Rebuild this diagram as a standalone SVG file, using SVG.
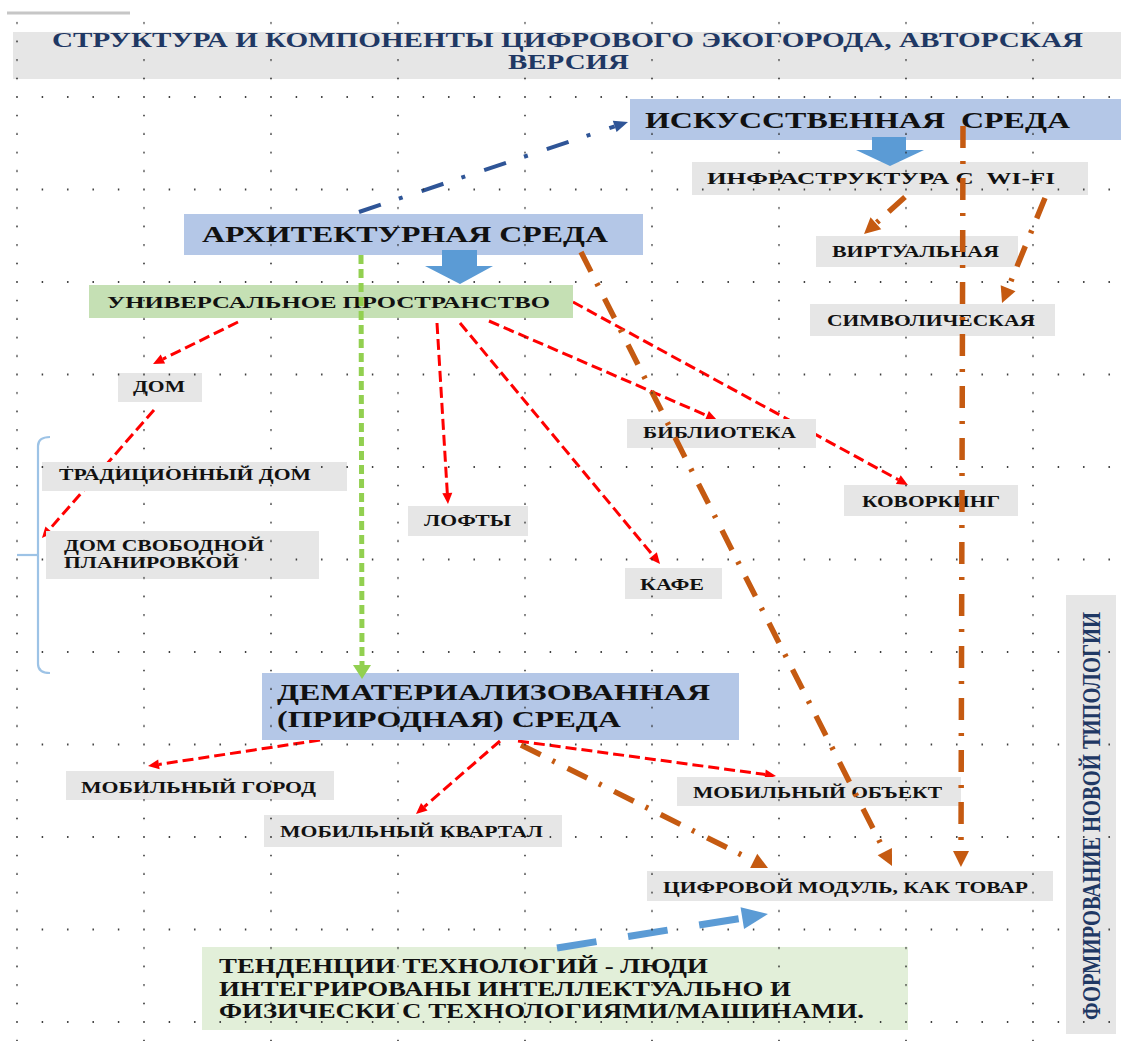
<svg xmlns="http://www.w3.org/2000/svg" width="1121" height="1041" viewBox="0 0 1121 1041">
<style>
.t{font-family:"Liberation Serif","Times New Roman",serif;font-weight:bold;fill:#111;}
.gray{fill:#e6e6e6;}
.blue{fill:#b4c7e7;}
.green{fill:#c5e0b4;}
.red{fill:none;stroke:#ff0000;stroke-width:3;stroke-dasharray:11 5;}
.orange{fill:none;stroke:#c55a11;stroke-width:5.5;stroke-dasharray:22 13 3 14;}
</style>
<defs>
<pattern id="grid" patternUnits="userSpaceOnUse" x="15" y="2.5" width="127" height="92.5">
<g fill="#2a2a2a">
<circle cx="2" cy="2" r="0.9"/><circle cx="27.4" cy="2" r="0.9"/><circle cx="52.8" cy="2" r="0.9"/><circle cx="78.2" cy="2" r="0.9"/><circle cx="103.6" cy="2" r="0.9"/>
<circle cx="2" cy="20.5" r="0.9"/><circle cx="2" cy="39" r="0.9"/><circle cx="2" cy="57.5" r="0.9"/><circle cx="2" cy="76" r="0.9"/>
</g>
</pattern>
<marker id="ar-red" markerUnits="userSpaceOnUse" markerWidth="11" markerHeight="10" refX="0" refY="5" orient="auto" overflow="visible"><path d="M0,0 L11,5 L0,10 Z" fill="#ff0000"/></marker>
<marker id="ar-or" markerUnits="userSpaceOnUse" markerWidth="16" markerHeight="16" refX="0" refY="8" orient="auto" overflow="visible"><path d="M0,0 L16,8 L0,16 Z" fill="#c55a11"/></marker>
<marker id="ar-gr" markerUnits="userSpaceOnUse" markerWidth="14" markerHeight="18" refX="0" refY="9" orient="auto" overflow="visible"><path d="M0,0 L14,9 L0,18 Z" fill="#92d050"/></marker>
<marker id="ar-nv" markerUnits="userSpaceOnUse" markerWidth="14" markerHeight="12" refX="0" refY="6" orient="auto" overflow="visible"><path d="M0,0 L14,6 L0,12 Z" fill="#2f5597"/></marker>
<marker id="ar-bl" markerUnits="userSpaceOnUse" markerWidth="26" markerHeight="22" refX="0" refY="11" orient="auto" overflow="visible"><path d="M0,0 L26,11 L0,22 Z" fill="#5b9bd5"/></marker>
</defs>

<line x1="7" y1="13" x2="130" y2="13" stroke="#c6c6c6" stroke-width="3"/>

<g id="title">
<rect class="gray" x="13" y="32" width="1108" height="47"/>
<text class="t" x="52" y="47" font-size="20" style="fill:#1f3864" textLength="1031" lengthAdjust="spacingAndGlyphs">СТРУКТУРА И КОМПОНЕНТЫ ЦИФРОВОГО ЭКОГОРОДА, АВТОРСКАЯ</text>
<text class="t" x="508" y="69" font-size="20" style="fill:#1f3864" textLength="121" lengthAdjust="spacingAndGlyphs">ВЕРСИЯ</text>
</g>

<g id="connectors-under">
<line class="red" x1="238" y1="322" x2="162.9" y2="359.1" marker-end="url(#ar-red)"/>
<line class="red" x1="154" y1="410" x2="49.2" y2="529.7" marker-end="url(#ar-red)"/>
<line class="red" x1="437" y1="323" x2="447.3" y2="493" marker-end="url(#ar-red)"/>
<line class="red" x1="460" y1="323" x2="653" y2="555.5" marker-end="url(#ar-red)"/>
<line class="red" x1="489" y1="321" x2="706.9" y2="415.6" marker-end="url(#ar-red)"/>
<line class="red" x1="573" y1="302" x2="898.3" y2="479.7" marker-end="url(#ar-red)"/>
<line class="red" x1="320" y1="740" x2="158.9" y2="764.4" marker-end="url(#ar-red)"/>
<line class="red" x1="500" y1="741" x2="424.3" y2="806.8" marker-end="url(#ar-red)"/>
<line class="red" x1="518" y1="741" x2="765.1" y2="774.5" marker-end="url(#ar-red)"/>
</g>

<g id="node-iskusstvennaya">
<rect class="blue" x="630" y="99" width="491" height="41"/>
<text class="t" x="645" y="128" font-size="24" textLength="425" lengthAdjust="spacingAndGlyphs" xml:space="preserve">ИСКУССТВЕННАЯ  СРЕДА</text>
</g>
<g id="node-infra">
<rect class="gray" x="692" y="162" width="396" height="33"/>
<text class="t" x="707" y="184" font-size="16" textLength="348" lengthAdjust="spacingAndGlyphs" xml:space="preserve">ИНФРАСТРУКТУРА С  WI-FI</text>
</g>
<g id="node-arch">
<rect class="blue" x="184" y="214" width="459" height="41"/>
<text class="t" x="202" y="242" font-size="23" textLength="406" lengthAdjust="spacingAndGlyphs">АРХИТЕКТУРНАЯ СРЕДА</text>
</g>
<g id="node-univ">
<rect class="green" x="89" y="285" width="484" height="33"/>
<text class="t" x="107" y="308" font-size="17" textLength="443" lengthAdjust="spacingAndGlyphs">УНИВЕРСАЛЬНОЕ ПРОСТРАНСТВО</text>
</g>
<g id="node-dom">
<rect class="gray" x="118" y="373" width="84" height="29"/>
<text class="t" x="133" y="392" font-size="16" textLength="52" lengthAdjust="spacingAndGlyphs">ДОМ</text>
</g>
<g id="node-trad">
<rect class="gray" x="42" y="462" width="305" height="29"/>
<text class="t" x="59" y="480" font-size="16" textLength="252" lengthAdjust="spacingAndGlyphs">ТРАДИЦИОННЫЙ ДОМ</text>
</g>
<g id="node-dom-svob">
<rect class="gray" x="46" y="531" width="273" height="48"/>
<text class="t" x="64" y="551" font-size="16" textLength="200" lengthAdjust="spacingAndGlyphs">ДОМ СВОБОДНОЙ</text>
<text class="t" x="64" y="568" font-size="16" textLength="175" lengthAdjust="spacingAndGlyphs">ПЛАНИРОВКОЙ</text>
</g>
<g id="node-lofty">
<rect class="gray" x="408" y="506" width="120" height="30"/>
<text class="t" x="424" y="526" font-size="16" textLength="87" lengthAdjust="spacingAndGlyphs">ЛОФТЫ</text>
</g>
<g id="node-biblioteka">
<rect class="gray" x="627" y="419" width="189" height="29"/>
<text class="t" x="643" y="438" font-size="16" textLength="153" lengthAdjust="spacingAndGlyphs">БИБЛИОТЕКА</text>
</g>
<g id="node-kovorking">
<rect class="gray" x="844" y="485" width="174" height="31"/>
<text class="t" x="862" y="507" font-size="16" textLength="138" lengthAdjust="spacingAndGlyphs">КОВОРКИНГ</text>
</g>
<g id="node-kafe">
<rect class="gray" x="625" y="568" width="97" height="31"/>
<text class="t" x="640" y="590" font-size="16" textLength="64" lengthAdjust="spacingAndGlyphs">КАФЕ</text>
</g>
<g id="node-virt">
<rect class="gray" x="816" y="236" width="202" height="31"/>
<text class="t" x="832" y="257" font-size="16" textLength="167" lengthAdjust="spacingAndGlyphs">ВИРТУАЛЬНАЯ</text>
</g>
<g id="node-simv">
<rect class="gray" x="810" y="304" width="245" height="32"/>
<text class="t" x="827" y="326" font-size="16" textLength="208" lengthAdjust="spacingAndGlyphs">СИМВОЛИЧЕСКАЯ</text>
</g>
<g id="node-demat">
<rect class="blue" x="262" y="673" width="477" height="67"/>
<text class="t" x="277" y="700" font-size="23" textLength="433" lengthAdjust="spacingAndGlyphs">ДЕМАТЕРИАЛИЗОВАННАЯ</text>
<text class="t" x="277" y="727" font-size="23" textLength="344" lengthAdjust="spacingAndGlyphs">(ПРИРОДНАЯ) СРЕДА</text>
</g>
<g id="node-mob-gorod">
<rect class="gray" x="66" y="771" width="268" height="29"/>
<text class="t" x="81" y="793" font-size="16" textLength="235" lengthAdjust="spacingAndGlyphs">МОБИЛЬНЫЙ ГОРОД</text>
</g>
<g id="node-mob-kvartal">
<rect class="gray" x="264" y="815" width="298" height="32"/>
<text class="t" x="280" y="837" font-size="16" textLength="263" lengthAdjust="spacingAndGlyphs">МОБИЛЬНЫЙ КВАРТАЛ</text>
</g>
<g id="node-mob-obekt">
<rect class="gray" x="677" y="777" width="284" height="29"/>
<text class="t" x="693" y="798" font-size="16" textLength="249" lengthAdjust="spacingAndGlyphs">МОБИЛЬНЫЙ ОБЪЕКТ</text>
</g>
<g id="node-cifr">
<rect class="gray" x="647" y="871" width="406" height="30"/>
<text class="t" x="663" y="893" font-size="16" textLength="365" lengthAdjust="spacingAndGlyphs">ЦИФРОВОЙ МОДУЛЬ, КАК ТОВАР</text>
</g>
<g id="node-tend">
<rect x="202" y="947" width="706" height="83" fill="#e2efd9"/>
<text class="t" x="219" y="973" font-size="20" textLength="489" lengthAdjust="spacingAndGlyphs">ТЕНДЕНЦИИ ТЕХНОЛОГИЙ - ЛЮДИ</text>
<text class="t" x="219" y="995.5" font-size="20" textLength="572" lengthAdjust="spacingAndGlyphs">ИНТЕГРИРОВАНЫ ИНТЕЛЛЕКТУАЛЬНО И</text>
<text class="t" x="219" y="1018" font-size="20" textLength="645" lengthAdjust="spacingAndGlyphs">ФИЗИЧЕСКИ С ТЕХНОЛОГИЯМИ/МАШИНАМИ.</text>
</g>
<g id="node-formirovanie">
<rect class="gray" x="1066" y="595" width="50" height="439"/>
<text class="t" transform="translate(1100,1020) rotate(-90)" x="0" y="0" font-size="26" style="fill:#1f3864" textLength="408" lengthAdjust="spacingAndGlyphs">ФОРМИРОВАНИЕ НОВОЙ ТИПОЛОГИИ</text>
</g>
<g id="bracket" fill="none" stroke="#9dc3e6" stroke-width="2.2">
<path d="M50,437 Q38,437 38,446 L38,664 Q38,673 50,673"/>
<path d="M17,555 L38,555"/>
</g>

<g id="connectors">
<polygon points="872,137 906,137 906,150 924,150 890,166 856,150 872,150" fill="#5b9bd5"/>
<polygon points="442,250 477,250 477,266 493,266 460,284 425,266 442,266" fill="#5b9bd5"/>
<line x1="359" y1="212" x2="614.7" y2="126.4" stroke="#2f5597" stroke-width="4" stroke-dasharray="23 19 4 20" marker-end="url(#ar-nv)"/>
<line x1="361" y1="255" x2="362" y2="665" stroke="#92d050" stroke-width="5" stroke-dasharray="9 5" marker-end="url(#ar-gr)"/>
<line class="orange" x1="963" y1="126" x2="961" y2="851" marker-end="url(#ar-or)"/>
<line class="orange" x1="581" y1="252" x2="884.8" y2="851.7" marker-end="url(#ar-or)"/>
<line class="orange" x1="521" y1="745" x2="753.7" y2="860.9" marker-end="url(#ar-or)"/>
<line class="orange" x1="905" y1="197" x2="875.9" y2="223.3" marker-end="url(#ar-or)"/>
<line class="orange" x1="1045" y1="198" x2="1008.1" y2="288.2" marker-end="url(#ar-or)"/>
<line x1="557" y1="948" x2="742.3" y2="918.1" stroke="#5b9bd5" stroke-width="7" stroke-dasharray="40 32" marker-end="url(#ar-bl)"/>
</g>

<rect id="grid-dots" x="12" y="20" width="1102" height="1021" fill="url(#grid)"/>
</svg>
